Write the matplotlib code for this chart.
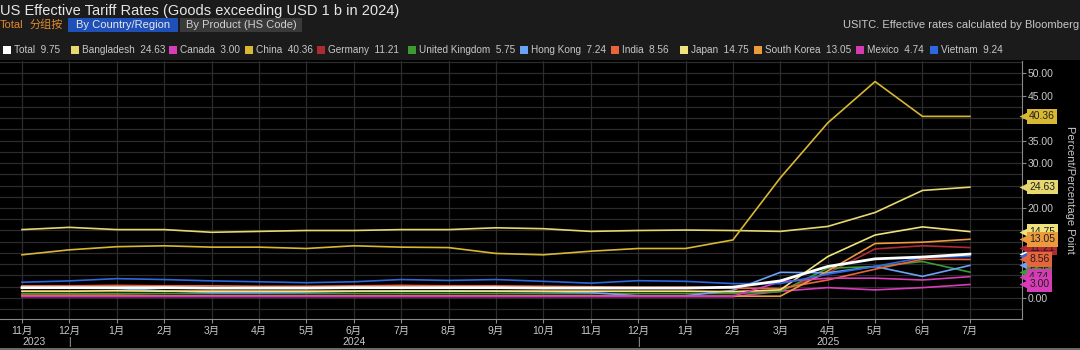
import numpy as np
import matplotlib
matplotlib.use("Agg")
import matplotlib.pyplot as plt
from matplotlib.patches import Rectangle
import matplotlib.transforms as mtransforms

plt.rcParams['font.family'] = ['Liberation Sans', 'Noto Sans CJK SC', 'DejaVu Sans']

# ---- data ----
months = ["11月", "12月", "1月", "2月", "3月", "4月", "5月", "6月", "7月", "8月", "9月",
          "10月", "11月", "12月", "1月", "2月", "3月", "4月", "5月", "6月", "7月"]
years = ["2023", "2024", "2025"]
year_pos = [0.25, 7, 17]
year_breaks = [1, 13]

total = [2.3, 2.3, 2.3, 2.3, 2.2, 2.2, 2.2, 2.3, 2.3, 2.3, 2.3, 2.2, 2.2, 2.2, 2.2, 2.4, 3.8, 7.0, 8.7, 9.1, 9.75]
bangladesh = [15.2, 15.7, 15.2, 15.2, 14.6, 14.8, 15.0, 15.0, 15.2, 15.2, 15.6, 15.4, 14.8, 15.0, 15.1, 15.0, 14.8, 15.9, 19.0, 23.9, 24.63]
canada = [0.3, 0.3, 0.3, 0.3, 0.3, 0.3, 0.3, 0.3, 0.3, 0.3, 0.3, 0.3, 0.3, 0.3, 0.3, 0.3, 1.5, 2.3, 1.8, 2.3, 3.00]
china = [9.6, 10.7, 11.4, 11.6, 11.3, 11.3, 11.0, 11.6, 11.3, 11.2, 9.9, 9.6, 10.4, 11.0, 11.0, 12.9, 26.7, 38.9, 48.1, 40.36, 40.36]
germany = [1.6, 1.6, 1.6, 1.6, 1.6, 1.5, 1.5, 1.6, 1.6, 1.6, 1.6, 1.5, 1.5, 1.5, 1.5, 1.4, 1.6, 5.5, 10.9, 11.6, 11.21]
uk = [1.0, 1.0, 1.0, 1.0, 1.0, 1.0, 1.0, 1.0, 1.0, 1.0, 1.0, 1.0, 1.0, 1.0, 1.0, 1.0, 1.4, 6.6, 7.0, 8.1, 5.75]
hong_kong = [2.3, 2.2, 2.1, 1.6, 1.2, 1.2, 1.3, 1.5, 1.6, 1.6, 1.5, 1.4, 1.2, 0.5, 0.5, 1.7, 5.7, 5.6, 7.0, 4.8, 7.24]
india = [2.7, 2.7, 2.8, 2.7, 2.7, 2.6, 2.6, 2.7, 2.8, 2.7, 2.7, 2.6, 2.5, 2.4, 2.4, 2.2, 2.1, 4.0, 6.4, 8.6, 8.56]
japan = [1.5, 1.5, 1.6, 1.5, 1.5, 1.5, 1.5, 1.5, 1.5, 1.5, 1.5, 1.5, 1.5, 1.5, 1.5, 1.4, 1.8, 9.2, 14.0, 15.8, 14.75]
south_korea = [0.6, 0.6, 0.6, 0.5, 0.5, 0.5, 0.5, 0.5, 0.5, 0.5, 0.5, 0.5, 0.5, 0.4, 0.4, 0.4, 0.4, 6.0, 12.1, 12.4, 13.05]
mexico = [0.4, 0.4, 0.4, 0.4, 0.4, 0.4, 0.4, 0.4, 0.4, 0.4, 0.4, 0.4, 0.4, 0.4, 0.4, 0.4, 3.6, 4.4, 4.4, 4.0, 4.74]
vietnam = [3.5, 3.8, 4.3, 4.1, 3.8, 3.6, 3.4, 3.6, 4.1, 3.9, 4.1, 3.7, 3.3, 3.85, 3.7, 3.2, 3.2, 5.3, 7.0, 9.0, 9.24]

names = ["Total", "Bangladesh", "Canada", "China", "Germany", "United Kingdom",
         "Hong Kong", "India", "Japan", "South Korea", "Mexico", "Vietnam"]
series = [total, bangladesh, canada, china, germany, uk,
          hong_kong, india, japan, south_korea, mexico, vietnam]
colors = ["#ffffff", "#e6d86e", "#d83cb8", "#d8b832", "#b02a34", "#3c9a30",
          "#6aa2f8", "#e8643a", "#efe27c", "#eb9a3c", "#d43cb4", "#2c68e0"]
# legend positions in px (x of the square)
leg_x = [3, 71, 169, 245, 317, 408, 520, 611, 680, 754, 856, 930]
# order of the value tags on the right (last on top)
tag_order = ["Total", "Vietnam", "Hong Kong", "Germany", "United Kingdom", "Japan",
             "South Korea", "Bangladesh", "China", "India", "Mexico", "Canada"]

W, H = 1080, 350
fig = plt.figure(figsize=(W / 100, H / 100), dpi=100)
fig.patch.set_facecolor("#1b1b1b")


def fx(px):
    return px / W


def fy(py):
    return 1 - py / H


# black lower panel
fig.patches.append(Rectangle((0, 0), 1, fy(60), transform=fig.transFigure,
                             facecolor="black", edgecolor="none", zorder=-5))
fig.patches.append(Rectangle((0, 0), 1, 2 / H, transform=fig.transFigure,
                             facecolor="#6a6a6a", edgecolor="none", zorder=-4))

ax = fig.add_axes([0, fy(319), fx(1022), fy(61) - fy(319)])
ax.set_facecolor("black")

x = np.arange(len(months))
for name, s, c in zip(names, series, colors):
    if name == "Total":
        continue
    ax.plot(x, s, color=c, lw=1.2, zorder=3)
ax.plot(x, total, color="#ffffff", lw=2.0, zorder=4)

ax.set_xlim(-0.464, 21.1)
ax.set_ylim(-4.67, 52.67)

ax.set_xticks(x)
ax.set_xticklabels(months)
ax.set_yticks(np.arange(0, 51, 5))
ax.set_yticklabels([f"{v:.2f}" for v in np.arange(0, 51, 5)])
ax.set_yticks(np.arange(-2.5, 52.6, 2.5), minor=True)
ax.yaxis.tick_right()
ax.grid(True, which="both", color="#2c2c2c", lw=0.9, zorder=0)
ax.tick_params(axis="x", colors="#8a8a8a", labelcolor="#c8c8c8", labelsize=7.5,
               length=3, pad=2)
ax.tick_params(axis="y", which="major", colors="#8a8a8a", labelcolor="#c8c8c8",
               labelsize=7.5, length=3, pad=1)
ax.tick_params(axis="y", which="minor", length=0)
for sp in ["left", "top"]:
    ax.spines[sp].set_visible(False)
for sp in ["bottom", "right"]:
    ax.spines[sp].set_color("#8a8a8a")

xtr = ax.get_xaxis_transform()
for yr, p in zip(years, year_pos):
    ax.text(p, -0.088, yr, transform=xtr, ha="center", va="center",
            fontsize=7.5, color="#c8c8c8")
for b in year_breaks:
    ax.text(b, -0.088, "|", transform=xtr, ha="center", va="center",
            fontsize=7, color="#c8c8c8")

# value tags on the right axis
ytr = ax.get_yaxis_transform()
tri_tr = mtransforms.offset_copy(ytr, fig=fig, x=3.0, units="points")
for z, name in enumerate(tag_order):
    i = names.index(name)
    v = series[i][-1]
    c = colors[i]
    ax.plot([1.0], [v], marker="<", ms=9.5, color=c, mec="none",
            transform=tri_tr, clip_on=False, zorder=10 + 2 * z)
    ax.annotate(f"{v:.2f}", xy=(1.0, v), xycoords=ytr, xytext=(5.2, 0),
                textcoords="offset points", ha="left", va="center",
                fontsize=7.5, color="#202020", annotation_clip=False,
                bbox=dict(boxstyle="square,pad=0.22", fc=c, ec="none"),
                zorder=11 + 2 * z)

fig.text(fx(1070), fy(190), "Percent/Percentage Point", rotation=270,
         ha="center", va="center", fontsize=8, color="#c8c8c8")

# header
fig.text(0, fy(11), "US Effective Tariff Rates (Goods exceeding USD 1 b in 2024)",
         ha="left", va="center", fontsize=10.5, color="#e6e6e6")
fig.text(0, fy(25), "Total", ha="left", va="center", fontsize=8, color="#e08a2c")
fig.text(fx(30), fy(25), "分组按", ha="left", va="center", fontsize=8, color="#e08a2c")
fig.patches.append(Rectangle((fx(68), fy(32)), fx(110), 14 / H, transform=fig.transFigure,
                             facecolor="#1f4fb8", edgecolor="none"))
fig.text(fx(123), fy(25), "By Country/Region", ha="center", va="center",
         fontsize=8, color="#e8e8e8")
fig.patches.append(Rectangle((fx(180), fy(32)), fx(122), 14 / H, transform=fig.transFigure,
                             facecolor="#3a3a3a", edgecolor="none"))
fig.text(fx(241), fy(25), "By Product (HS Code)", ha="center", va="center",
         fontsize=8, color="#d0d0d0")
fig.text(fx(843), fy(25), "USITC. Effective rates calculated by Bloomberg",
         ha="left", va="center", fontsize=8, color="#c8c8c8")

# legend row
for name, s, c, lx in zip(names, series, colors, leg_x):
    fig.patches.append(Rectangle((fx(lx), fy(54)), fx(8), 8 / H, transform=fig.transFigure,
                                 facecolor=c, edgecolor="none"))
    fig.text(fx(lx + 11), fy(50), f"{name}  {s[-1]:.2f}", ha="left", va="center",
             fontsize=7.2, color="#c8c8c8")

fig.savefig("out.png", dpi=100, facecolor=fig.get_facecolor())
